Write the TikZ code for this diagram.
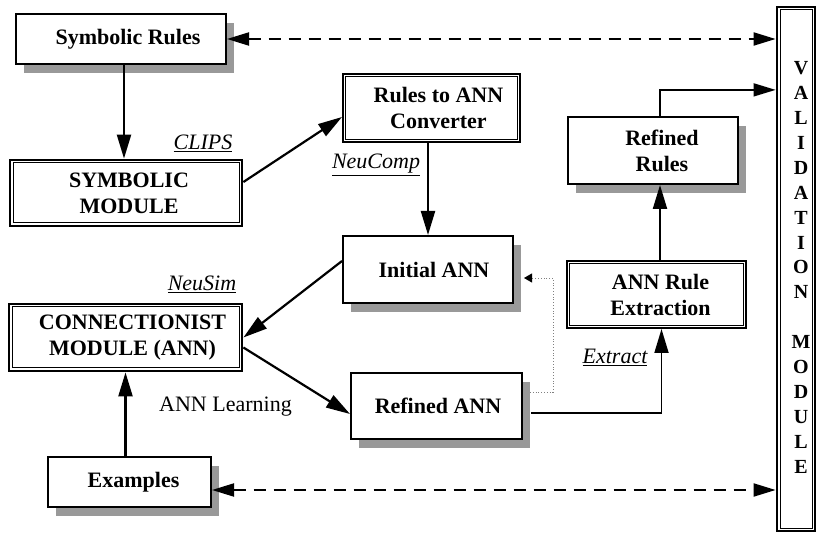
\documentclass[tikz,border=0pt]{standalone}
\usepackage{fontspec}
\setmainfont{Liberation Serif}
\usetikzlibrary{arrows.meta,shadows,calc}
\newcommand\tsh[1]{\hspace*{#1pt}}
\begin{document}
\begin{tikzpicture}[x=1pt,y=-1pt,
 every node/.style={font=\fontsize{22}{26}\selectfont\bfseries, align=center, inner sep=0pt},
 sbox/.style={draw, line width=2pt, fill=white, general shadow={fill=gray!80, shadow xshift=8pt, shadow yshift=-9pt}},
 dbox/.style={draw, line width=#1, fill=white},
 inbox/.style={line width=1pt},
 arr/.style={line width=2.2pt, -{Triangle[length=24pt,width=14pt]}},
 darr/.style={line width=2pt, dash pattern=on 12pt off 8pt, {Triangle[length=22pt,width=13pt]}-{Triangle[length=22pt,width=13pt]}},
 tarr/.style={line width=1.6pt, -{Triangle[length=22pt,width=13pt]}},
 dotarr/.style={line width=0.8pt, gray, dotted, -{Triangle[length=8pt,width=9pt,color=black]}},
 lab/.style={font=\fontsize{22}{26}\selectfont\itshape}
]
\useasboundingbox (0,0) rectangle (817,534);

\node[sbox, minimum width=210, minimum height=50] (sr) at (121,39) {\tsh{14}Symbolic Rules};
\node[dbox=2.8pt, minimum width=232, minimum height=66] (sm) at (126,193) {\tsh{6}SYMBOLIC\\\tsh{6}MODULE};
\node[dbox=2pt, minimum width=177, minimum height=68] (conv) at (431.5,108) {\tsh{14}Rules to ANN\\\tsh{14}Converter};
\node[sbox, minimum width=170, minimum height=67] (ia) at (428,269.5) {\tsh{12}Initial ANN};
\node[dbox=2.8pt, minimum width=233, minimum height=67] (cm) at (125.5,337.5) {\tsh{14}CONNECTIONIST\\\tsh{14}MODULE (ANN)};
\node[sbox, minimum width=171, minimum height=66] (ra) at (436.5,406) {\tsh{3}Refined ANN};
\node[sbox, minimum width=163, minimum height=50] (ex) at (129.5,482) {\tsh{8}Examples};
\node[sbox, minimum width=170, minimum height=67] (rr) at (653,150.5) {\tsh{18}Refined\\\tsh{18}Rules};
\node[dbox=2pt, minimum width=179, minimum height=67] (rex) at (656.5,294.5) {\tsh{8}ANN Rule\\\tsh{8}Extraction};
\node[dbox=2.8pt, minimum width=38, minimum height=524, font=\fontsize{20}{24.9}\selectfont\bfseries] (val) at (796,269)
  {\tsh{10}\begin{tabular}{@{}c@{}}V\\A\\L\\I\\D\\A\\T\\I\\O\\N\\ \\M\\O\\D\\U\\L\\E\end{tabular}};

\draw[inbox] ($(sm.north west)+(4.4,4.4)$) rectangle ($(sm.south east)+(-4.4,-4.4)$);
\draw[inbox] ($(cm.north west)+(4.4,4.4)$) rectangle ($(cm.south east)+(-4.4,-4.4)$);
\draw[inbox] ($(conv.north west)+(3.8,3.8)$) rectangle ($(conv.south east)+(-3.8,-3.8)$);
\draw[inbox] ($(rex.north west)+(3.8,3.8)$) rectangle ($(rex.south east)+(-3.8,-3.8)$);
\draw[inbox] ($(val.north west)+(4.4,4.4)$) rectangle ($(val.south east)+(-4.4,-4.4)$);

\node[lab] (clips) at (203,143) {\underline{CLIPS}};
\node[lab] (neucomp) at (376,165) {\underline{NeuComp}};
\node[lab] (neusim) at (202,284) {\underline{NeuSim}};
\node[lab] (extract) at (615,357) {\underline{Extract}};
\node[font=\fontsize{22}{26}\selectfont] (annl) at (225.5,407) {ANN Learning};

\draw[arr] ([xshift=3pt]sr.south) -- ([xshift=3pt]sr.south |- sm.north);
\draw[arr] ([yshift=11pt]sm.east) -- ([yshift=-9pt]conv.west);
\draw[arr] (ia.north |- conv.south) -- (ia.north);
\draw[arr] ([yshift=8.5pt]ia.west) -- (cm.east);
\draw[arr] ([yshift=-10pt]cm.east) -- ([yshift=-8pt]ra.west);
\draw[arr] (cm.south |- ex.north) -- (cm.south);
\draw[line width=1.8pt, -{Triangle[length=24pt,width=14pt]}] ([xshift=8pt,yshift=-7pt]ra.east) -| ([xshift=5pt]rex.south);
\draw[arr] ([xshift=3.5pt]rex.north) -- ([xshift=3.5pt]rex.north |- rr.south);
\draw[tarr] ([xshift=7pt]rr.north) |- ($(val.north west)!0.16!(val.south west)$);
\draw[darr] (sr.east) -- (sr.east -| val.west);
\draw[darr] ([yshift=-8pt]ex.east) -- ([yshift=-8pt]ex.east -| val.west);

\coordinate (dtip) at ([xshift=10pt,yshift=-8.5pt]ia.east);
\coordinate (dcorner) at ([xshift=29pt]dtip);
\draw[dotarr] ([xshift=7pt,yshift=14pt]ra.east) -| (dcorner) -- (dtip);
\end{tikzpicture}
\end{document}
